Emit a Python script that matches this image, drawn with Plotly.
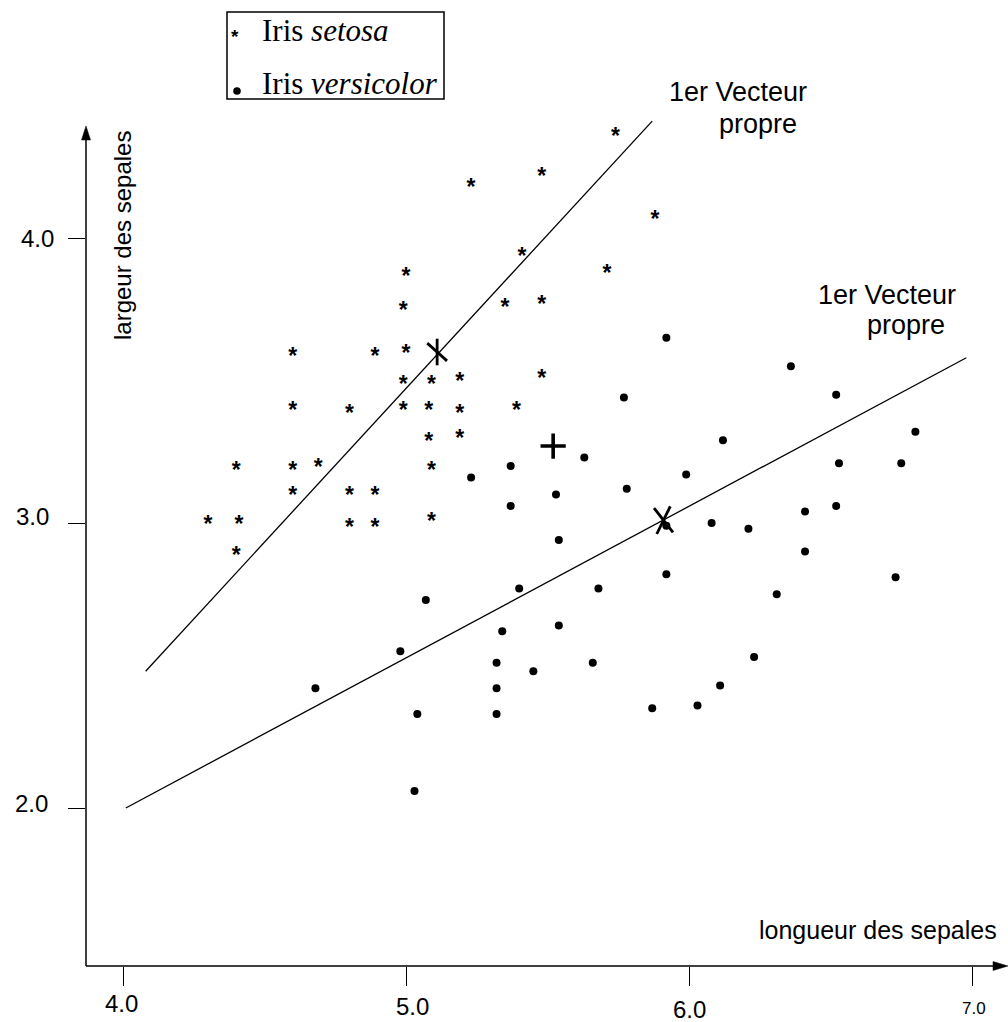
import plotly.graph_objects as go

# ---------------- data ----------------
setosa_x = [5.74, 5.48, 5.23, 5.88, 5.41, 5.71, 5.00, 5.48, 5.35, 4.99,
            4.60, 4.89, 5.00, 4.99, 5.09, 5.19, 5.48, 4.60, 4.80, 4.99,
            5.08, 5.19, 5.39, 5.08, 5.19, 4.40, 4.60, 4.69, 5.09, 4.60,
            4.80, 4.89, 4.30, 4.41, 4.80, 4.89, 5.09, 4.40]
setosa_y = [4.39, 4.25, 4.21, 4.10, 3.97, 3.91, 3.90, 3.80, 3.79, 3.78,
            3.62, 3.62, 3.63, 3.52, 3.52, 3.53, 3.54, 3.43, 3.42, 3.43,
            3.43, 3.42, 3.43, 3.32, 3.33, 3.22, 3.22, 3.23, 3.22, 3.13,
            3.13, 3.13, 3.03, 3.03, 3.02, 3.02, 3.04, 2.92]

versicolor_x = [5.92, 6.36, 5.77, 6.52, 6.80, 5.63, 5.37, 5.23, 6.12, 6.53,
                6.75, 5.99, 5.78, 5.53, 5.37, 5.92, 6.08, 6.21, 6.41, 6.52,
                5.54, 6.41, 5.92, 5.07, 5.40, 5.68, 6.31, 6.73, 5.34, 5.54,
                4.98, 6.23, 5.66, 5.32, 5.45, 4.68, 5.32, 6.11, 6.03, 5.87,
                5.04, 5.32, 5.03]
versicolor_y = [3.65, 3.55, 3.44, 3.45, 3.32, 3.23, 3.20, 3.16, 3.29, 3.21,
                3.21, 3.17, 3.12, 3.10, 3.06, 2.99, 3.00, 2.98, 3.04, 3.06,
                2.94, 2.90, 2.82, 2.73, 2.77, 2.77, 2.75, 2.81, 2.62, 2.64,
                2.55, 2.53, 2.51, 2.51, 2.48, 2.42, 2.42, 2.43, 2.36, 2.35,
                2.33, 2.33, 2.06]

setosa_center = [5.11, 3.60]
versicolor_center = [5.91, 3.01]
overall_center = [5.52, 3.27]

setosa_axis_x = [4.08, 5.87]
setosa_axis_y = [2.48, 4.41]
versicolor_axis_x = [4.01, 6.98]
versicolor_axis_y = [2.00, 3.58]

x_ticks = [4.0, 5.0, 6.0, 7.0]
x_tick_text = ["4.0", "5.0", "6.0", "7.0"]
y_ticks = [2.0, 3.0, 4.0]
y_tick_text = ["2.0", "3.0", "4.0"]

x_title = "longueur des sepales"
y_title = "largeur des sepales"
vector_label_1 = "1er Vecteur"
vector_label_2 = "propre"
legend_labels = ["Iris <i>setosa</i>", "Iris <i>versicolor</i>"]

# ---------------- styling ----------------
W, H = 1008, 1022
ML, MB = 86, 56
PW, PH = W - ML, H - MB
SANS = "Liberation Sans, Arial, Helvetica, sans-serif"
SERIF = "Liberation Serif, Times New Roman, serif"
BLACK = "black"


def px_x(p):
    return (p - ML) / PW


def px_y(p):
    return (PH - p) / PH


fig = go.Figure()

# eigenvector lines
fig.add_trace(go.Scatter(x=setosa_axis_x, y=setosa_axis_y, mode="lines",
                         line=dict(color=BLACK, width=1.3), hoverinfo="skip"))
fig.add_trace(go.Scatter(x=versicolor_axis_x, y=versicolor_axis_y, mode="lines",
                         line=dict(color=BLACK, width=1.3), hoverinfo="skip"))

# Iris setosa: asterisks
fig.add_trace(go.Scatter(x=setosa_x, y=setosa_y, mode="text",
                         text=["*"] * len(setosa_x),
                         textposition="bottom center",
                         textfont=dict(family=SANS, size=23, color=BLACK,
                                       weight="bold"),
                         name="Iris setosa"))

# Iris versicolor: dots
fig.add_trace(go.Scatter(x=versicolor_x, y=versicolor_y, mode="markers",
                         marker=dict(symbol="circle", size=8, color=BLACK),
                         name="Iris versicolor"))

# class centres (drawn as two strokes each)
fig.add_trace(go.Scatter(x=[setosa_center[0]] * 2, y=[setosa_center[1]] * 2,
                         mode="markers",
                         marker=dict(symbol="line-ns", size=19, angle=[0, -48],
                                     color=BLACK, line=dict(color=BLACK, width=2.8))))
fig.add_trace(go.Scatter(x=[versicolor_center[0]] * 2, y=[versicolor_center[1]] * 2,
                         mode="markers",
                         marker=dict(symbol="line-ns", size=22, angle=[-38, 26],
                                     color=BLACK, line=dict(color=BLACK, width=2.8))))
# overall centre
fig.add_trace(go.Scatter(x=[overall_center[0]], y=[overall_center[1]],
                         mode="markers",
                         marker=dict(symbol="cross-thin", size=18, color=BLACK,
                                     line=dict(color=BLACK, width=3.6))))

x_range = [4 + (ML - 123) / 283, 4 + (W - 123) / 283]
y_range = [3 - (PH - 523) / 285, 3 + 523 / 285]

annotations = []
# x tick labels
x_lab_dx = [-2, 6, 0, 2]
x_lab_dy = [-37, -40, -43, -42]
x_lab_fs = [24, 24, 24, 17]
for v, t, dx, dy, fs in zip(x_ticks, x_tick_text, x_lab_dx, x_lab_dy, x_lab_fs):
    annotations.append(dict(x=v, y=0, xref="x", yref="paper", text=t,
                            showarrow=False, xanchor="center", yanchor="middle",
                            xshift=dx, yshift=dy,
                            font=dict(family=SANS, size=fs, color=BLACK)))
# y tick labels
y_lab_dx = [-55, -54, -49]
y_lab_dy = [5, 7, 0]
for v, t, dx, dy in zip(y_ticks, y_tick_text, y_lab_dx, y_lab_dy):
    annotations.append(dict(x=0, y=v, xref="paper", yref="y", text=t,
                            showarrow=False, xanchor="center", yanchor="middle",
                            xshift=dx, yshift=dy,
                            font=dict(family=SANS, size=24, color=BLACK)))
# axis titles
annotations.append(dict(x=px_x(999), y=px_y(930), xref="paper", yref="paper",
                        text=x_title, showarrow=False, xanchor="right",
                        yanchor="middle", font=dict(family=SANS, size=25, color=BLACK)))
annotations.append(dict(x=px_x(122), y=px_y(236), xref="paper", yref="paper",
                        text=y_title, showarrow=False, textangle=-90,
                        xanchor="center", yanchor="middle",
                        font=dict(family=SANS, size=24, color=BLACK)))
# eigenvector labels
for (cx, cy, t) in [(737.5, 92, vector_label_1), (757.5, 124, vector_label_2),
                    (887, 295, vector_label_1), (906, 325, vector_label_2)]:
    annotations.append(dict(x=px_x(cx), y=px_y(cy), xref="paper", yref="paper",
                            text=t, showarrow=False, xanchor="center",
                            yanchor="middle",
                            font=dict(family=SANS, size=27, color=BLACK)))
# legend texts
for (cy, t) in [(31, legend_labels[0]), (83, legend_labels[1])]:
    annotations.append(dict(x=px_x(260), y=px_y(cy), xref="paper", yref="paper",
                            text=t, showarrow=False, xanchor="left",
                            yanchor="middle",
                            font=dict(family=SERIF, size=31, color=BLACK)))
# legend asterisk
annotations.append(dict(x=px_x(235), y=px_y(37), xref="paper", yref="paper",
                        text="*", showarrow=False, xanchor="center",
                        yanchor="middle",
                        font=dict(family=SANS, size=19, color=BLACK, weight="bold")))

shapes = [
    # x axis line
    dict(type="line", xref="paper", yref="paper", x0=0, y0=0,
         x1=px_x(996), y1=0, line=dict(color=BLACK, width=1.5)),
    # y axis line
    dict(type="line", xref="paper", yref="paper", x0=0, y0=0,
         x1=0, y1=px_y(136), line=dict(color=BLACK, width=1.5)),
    # x arrowhead
    dict(type="path", xref="paper", yref="paper", xsizemode="pixel",
         ysizemode="pixel", xanchor=1, yanchor=0,
         path="M0,0 L-15,4.5 L-15,-4.5 Z", fillcolor=BLACK,
         line=dict(color=BLACK, width=0.5)),
    # y arrowhead
    dict(type="path", xref="paper", yref="paper", xsizemode="pixel",
         ysizemode="pixel", xanchor=0, yanchor=px_y(126),
         path="M0,0 L-4.5,-14 L4.5,-14 Z", fillcolor=BLACK,
         line=dict(color=BLACK, width=0.5)),
    # legend box
    dict(type="rect", xref="paper", yref="paper", x0=px_x(227), x1=px_x(444),
         y0=px_y(99), y1=px_y(12), line=dict(color=BLACK, width=1.5),
         fillcolor="rgba(0,0,0,0)"),
    # legend dot
    dict(type="circle", xref="paper", yref="paper", xsizemode="pixel",
         ysizemode="pixel", xanchor=px_x(237), yanchor=px_y(91),
         x0=-3.8, x1=3.8, y0=-3.8, y1=3.8, fillcolor=BLACK,
         line=dict(color=BLACK, width=0)),
]

fig.update_layout(
    width=W, height=H,
    margin=dict(l=ML, r=0, t=0, b=MB, pad=0),
    paper_bgcolor="white", plot_bgcolor="white",
    showlegend=False,
    xaxis=dict(range=x_range, showgrid=False, zeroline=False, showline=False,
               ticks="outside", ticklen=19, tickwidth=1.2, tickcolor=BLACK,
               tickvals=x_ticks, showticklabels=False, fixedrange=True),
    yaxis=dict(range=y_range, showgrid=False, zeroline=False, showline=False,
               ticks="outside", ticklen=17, tickwidth=1.2, tickcolor=BLACK,
               tickvals=y_ticks, showticklabels=False, fixedrange=True),
    annotations=annotations,
    shapes=shapes,
)

fig.write_html("out.html", config={"displayModeBar": False})
